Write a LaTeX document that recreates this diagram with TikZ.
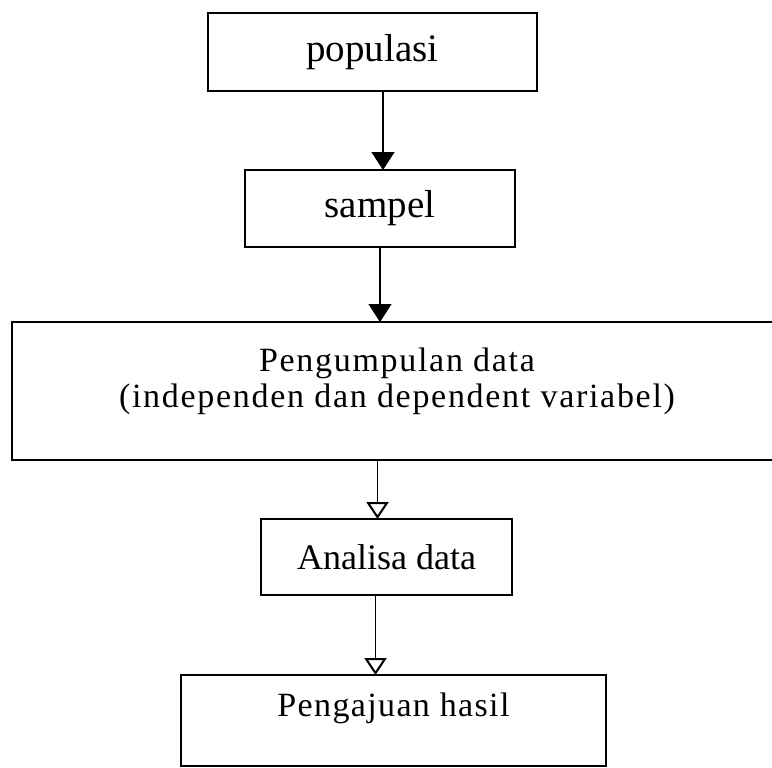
\documentclass[tikz,border=0pt]{standalone}
\usepackage{fontspec}
\setmainfont{Liberation Serif}
\newfontfamily\wideserif[LetterSpace=5]{Liberation Serif}
\newfontfamily\midserif[LetterSpace=4]{Liberation Serif}
\usetikzlibrary{arrows.meta,positioning}

\begin{document}
\begin{tikzpicture}[
				x=1pt,y=-1pt,
				stage/.style={draw,rectangle,line width=2pt,inner sep=0pt,outer sep=0pt,align=center},
				flow/.style={line width=1.4pt,-{Triangle[width=23pt,length=18pt]}},
				flowopen/.style={line width=1.4pt,-{Triangle[open,width=22pt,length=17pt,line width=2pt]}}
				]
				\useasboundingbox (0,0) rectangle (772,768);
				
				\node[stage,minimum width=329pt,minimum height=78pt,font=\fontsize{39}{44}\selectfont] (populasi) at (372.5,52) {populasi};
				\node[stage,minimum width=270pt,minimum height=77pt,font=\fontsize{39}{44}\selectfont,below=79pt of populasi,xshift=7.5pt] (sampel) {sampel};
				\node[stage,minimum width=770pt,minimum height=138pt,below=75pt of sampel,xshift=17pt,
					label={[align=center,yshift=10pt,font=\wideserif\fontsize{34}{36}\selectfont]center:Pengumpulan data\\(independen dan dependent variabel)}] (collect) {};
				\node[stage,minimum width=251pt,minimum height=76pt,font=\fontsize{36}{40}\selectfont,below=59pt of collect,xshift=-10.5pt] (analisa) {Analisa data};
				\node[stage,minimum width=425pt,minimum height=91pt,below=80pt of analisa,xshift=7pt,
					label={[yshift=12pt,font=\midserif\fontsize{34}{38}\selectfont]center:Pengajuan hasil}] (hasil) {};
				
				% Panah
				\draw[flow] ([xshift=3pt]populasi.south -| sampel.north) -- ([xshift=3pt]sampel.north);
				\draw[flow] (sampel.south) -- (sampel.south |- collect.north);
				\draw[flowopen] ([xshift=-9pt]analisa.north |- collect.south) -- ([xshift=-9pt]analisa.north);
				\draw[flowopen] ([xshift=-11pt]analisa.south) -- ([xshift=-11pt]analisa.south |- hasil.north);
				
			\end{tikzpicture}
\end{document}
